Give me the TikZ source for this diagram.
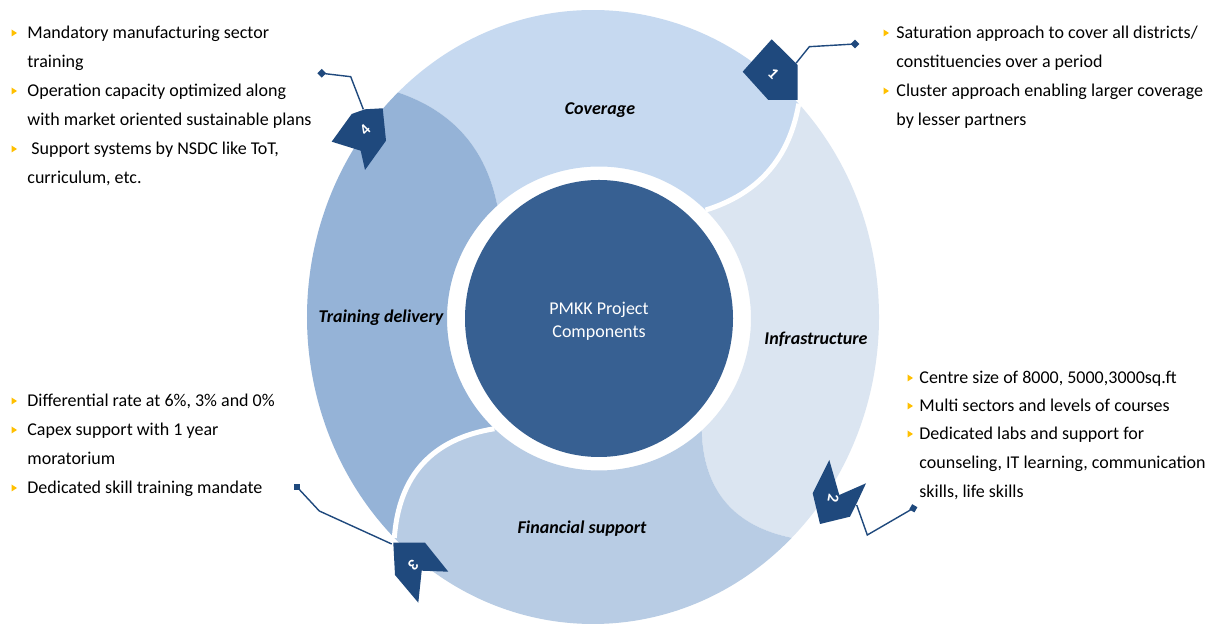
\documentclass[tikz,border=0pt]{standalone}
\usepackage{fontspec}
\setmainfont{Carlito}
\usetikzlibrary{calc,shapes.geometric}
\definecolor{cov}{HTML}{C6D9F0}
\definecolor{infra}{HTML}{DBE5F1}
\definecolor{fin}{HTML}{B8CCE4}
\definecolor{trn}{HTML}{95B3D7}
\definecolor{core}{HTML}{376092}
\definecolor{badge}{HTML}{1F497D}
\definecolor{bul}{HTML}{FFC000}
\begin{document}
\begin{tikzpicture}[x=0.5pt,y=0.5pt,
  body/.style={anchor=base west, inner sep=0pt, font=\fontsize{9}{11}\selectfont},
  seglabel/.style={inner sep=0pt, font=\fontsize{9}{11}\selectfont\bfseries\itshape},
  corelabel/.style={inner sep=0pt, text=white, align=center, font=\fontsize{9}{11.5}\selectfont},
  num/.style={text=white, inner sep=0pt, font=\fontsize{8}{9}\selectfont\bfseries},
  leader/.style={draw=badge, line width=0.7pt},
  dmark/.style={diamond, fill=badge, inner sep=0pt, minimum width=4.5pt, minimum height=4.5pt},
  smark/.style={rectangle, fill=badge, inner sep=0pt, minimum size=3pt},
  bulletpic/.pic={\fill[bul] (-2.5,3.5) -- (3,0) -- (-2.5,-3.5) -- cycle;}]
\useasboundingbox (0,0) rectangle (1210,630);
\fill[white] (0,0) rectangle (1210,630);

% geometry
\coordinate (OC) at (593,313);
\coordinate (IC) at (599,311.5);
\path (OC) ++(44:286 and 307) coordinate (Ao);
\path (IC) ++(45.5:152) coordinate (Ai);
\path (OC) ++(-46:286 and 307) coordinate (Bo);
\path (IC) ++(-47.5:152) coordinate (Bi);
\path (OC) ++(-134:286 and 307) coordinate (Co);
\path (IC) ++(-133.5:152) coordinate (Ci);
\path (OC) ++(133:286 and 307) coordinate (Do);
\path (IC) ++(132:152) coordinate (Di);
% head control points
\coordinate (Am1) at ($(Ao)!0.333!(Ai)$);
\coordinate (Am2) at ($(Ao)!0.667!(Ai)$);
\coordinate (A1) at ($(Am1)!14.5pt!90:(Ai)$);
\coordinate (A2) at ($(Am2)!14.5pt!90:(Ai)$);
\coordinate (Bm1) at ($(Bo)!0.333!(Bi)$);
\coordinate (Bm2) at ($(Bo)!0.667!(Bi)$);
\coordinate (B1) at ($(Bm1)!18.5pt!90:(Bi)$);
\coordinate (B2) at ($(Bm2)!18.5pt!90:(Bi)$);
\coordinate (Cm1) at ($(Co)!0.333!(Ci)$);
\coordinate (Cm2) at ($(Co)!0.667!(Ci)$);
\coordinate (C1) at ($(Cm1)!19.5pt!90:(Ci)$);
\coordinate (C2) at ($(Cm2)!19.5pt!90:(Ci)$);
\coordinate (Dm1) at ($(Do)!0.333!(Di)$);
\coordinate (Dm2) at ($(Do)!0.667!(Di)$);
\coordinate (D1) at ($(Dm1)!14.5pt!90:(Di)$);
\coordinate (D2) at ($(Dm2)!14.5pt!90:(Di)$);

% segments
\fill[cov] (Do) arc[start angle=133,end angle=44,x radius=286,y radius=307]
  .. controls (A1) and (A2) .. (Ai) arc[start angle=45.5,end angle=132,radius=152]
  .. controls (D2) and (D1) .. (Do) -- cycle;
\fill[infra] (Ao) arc[start angle=44,end angle=-46,x radius=286,y radius=307]
  .. controls (B1) and (B2) .. (Bi) arc[start angle=-47.5,end angle=45.5,radius=152]
  .. controls (A2) and (A1) .. (Ao) -- cycle;
\fill[fin] (Bo) arc[start angle=-46,end angle=-134,x radius=286,y radius=307]
  .. controls (C1) and (C2) .. (Ci) arc[start angle=-133.5,end angle=-47.5,radius=152]
  .. controls (B2) and (B1) .. (Bo) -- cycle;
\fill[trn] (Co) arc[start angle=-134,end angle=-227,x radius=286,y radius=307]
  .. controls (D1) and (D2) .. (Di) arc[start angle=-228,end angle=-133.5,radius=152]
  .. controls (C2) and (C1) .. (Co) -- cycle;
% white gaps
\draw[white, line width=2.5pt] (Ao) .. controls (A1) and (A2) .. (Ai);
\draw[white, line width=2.5pt] (Co) .. controls (C1) and (C2) .. (Ci);

% core
\fill[core] (IC) ellipse[x radius=134, y radius=138.5];
\node[corelabel] (corel) at (599,308.5) {PMKK Project\\Components};

% segment labels
\node[seglabel] (lcov) at (600,520) {Coverage};
\node[seglabel] (ltrn) at (381,312) {Training delivery};
\node[seglabel] (linf) at (816,291) {Infrastructure};
\node[seglabel] (lfin) at (582,101) {Financial support};

% badges
\fill[badge] (771.7,590.7) -- (742.7,558.3) -- (768.3,530) -- (797.7,530) -- (797.7,565) -- cycle;
\fill[badge] (365,520.7) -- (382.7,521.7) -- (386,489.3) -- (365,460) -- (360.7,479.3) -- (331.7,488.3) -- (351.7,516) -- cycle;
\fill[badge] (393.3,87.3) -- (425,87.3) -- (448.3,58.3) -- (421.7,59.3) -- (418.3,27.3) -- (395,55) -- cycle;
\fill[badge] (829.3,170) -- (839.3,135) -- (866,146.7) -- (856.7,126.7) -- (850,113.3) -- (820,106) -- (812.7,136.7) -- cycle;
\node[num, rotate=-45] (n1) at (773.3,556.7) {1};
\node[num, rotate=-100] (n2) at (833.3,131.7) {2};
\node[num, rotate=-135] (n3) at (413.3,65) {3};
\node[num, rotate=45] (n4) at (365,500) {4};

% leaders
\node[dmark] (m1) at (855,586) {};
\node[dmark] (m4) at (321.7,556.7) {};
\node[smark] (m3) at (296.7,143.3) {};
\node[smark, rotate=-30] (m2) at (913.3,121.7) {};
\coordinate (s1) at (796,566.7);
\coordinate (b1) at (809.3,583.3);
\coordinate (s4) at (363.3,520.7);
\coordinate (b4) at (350.7,553.3);
\coordinate (s3) at (391.7,86);
\coordinate (b3) at (319.3,119);
\coordinate (s2) at (856.7,125);
\coordinate (b2) at (867.3,95);
\draw[leader] (s1) -- (b1) -- (m1.center);
\draw[leader] (s4) -- (b4) -- (m4.center);
\draw[leader] (s3) -- (b3) -- (m3.center);
\draw[leader] (s2) -- (b2) -- (m2.center);

% top-left text
\pic at (14,597) {bulletpic};
\pic at (14,539) {bulletpic};
\pic at (14,481) {bulletpic};
\node[body] (tl1) at (27,591.2) {Mandatory manufacturing sector};
\node[body] (tl2) at (27,562.2) {training};
\node[body] (tl3) at (27,533.2) {Operation capacity optimized along};
\node[body] (tl4) at (27,504.2) {with market oriented sustainable plans};
\node[body] (tl5) at (31,475.2) {Support systems by NSDC like ToT,};
\node[body] (tl6) at (27,446.2) {curriculum, etc.};

% top-right text
\pic at (886,597) {bulletpic};
\pic at (886,539) {bulletpic};
\node[body] (tr1) at (896,591.2) {Saturation approach to cover all districts/};
\node[body] (tr2) at (896,562.2) {constituencies over a period};
\node[body] (tr3) at (896,533.2) {Cluster approach enabling larger coverage};
\node[body] (tr4) at (896,504.2) {by lesser partners};

% bottom-right text
\pic at (910,252) {bulletpic};
\pic at (910,224) {bulletpic};
\pic at (910,196) {bulletpic};
\node[body] (br1) at (919,246.2) {Centre size of 8000, 5000,3000sq.ft};
\node[body] (br2) at (919,218.2) {Multi sectors and levels of courses};
\node[body] (br3) at (919,190.2) {Dedicated labs and support for};
\node[body] (br4) at (919,161.2) {counseling, IT learning, communication};
\node[body] (br5) at (919,132.2) {skills, life skills};

% bottom-left text
\pic at (14,229) {bulletpic};
\pic at (14,200) {bulletpic};
\pic at (14,142) {bulletpic};
\node[body] (bl1) at (27,223.2) {Differential rate at 6\%, 3\% and 0\%};
\node[body] (bl2) at (27,194.2) {Capex support with 1 year};
\node[body] (bl3) at (27,165.2) {moratorium};
\node[body] (bl4) at (27,136.2) {Dedicated skill training mandate};
\end{tikzpicture}
\end{document}
